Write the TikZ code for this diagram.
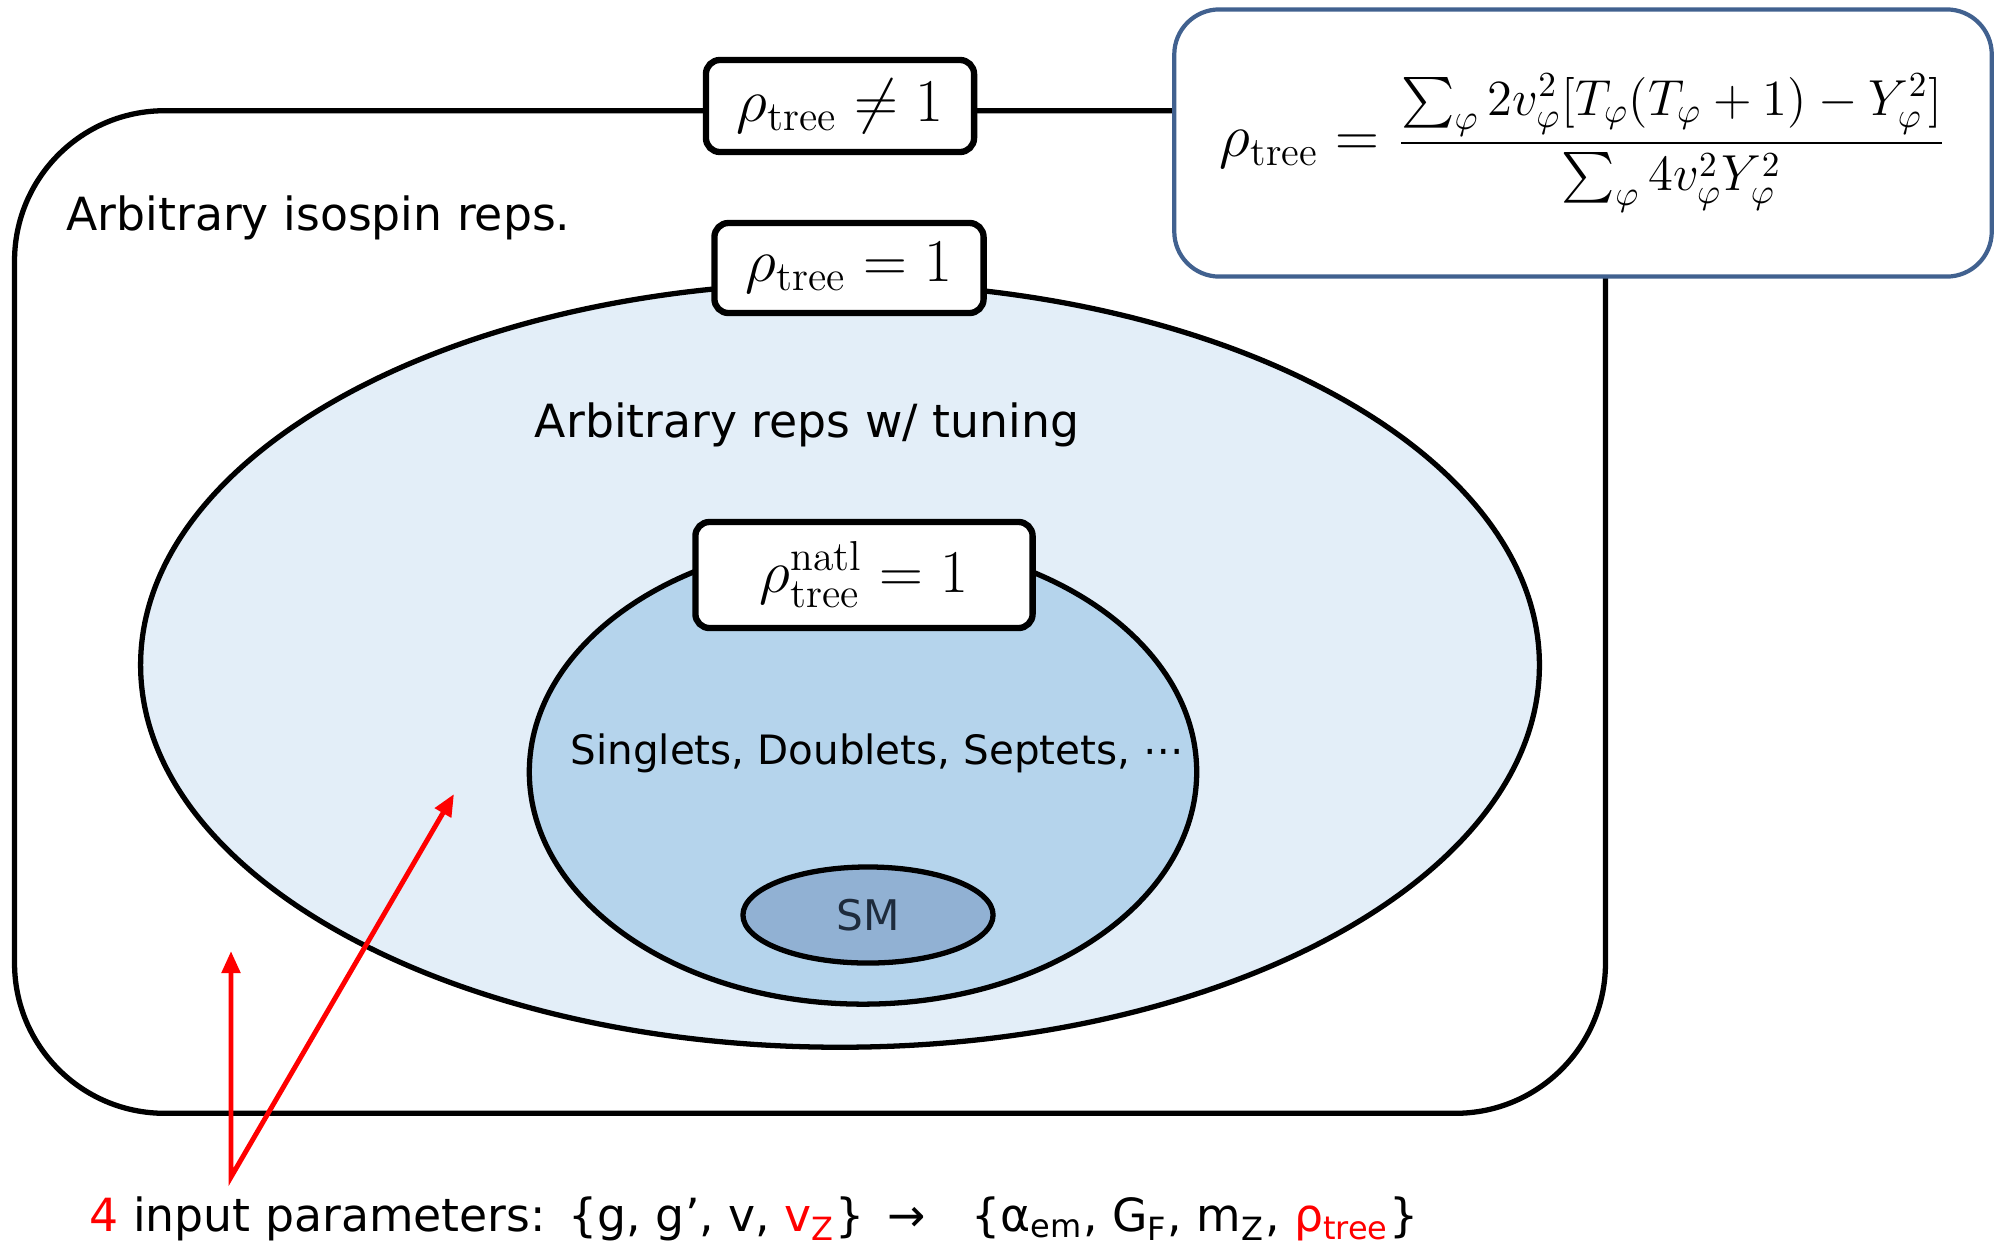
\documentclass[tikz,border=0pt]{standalone}
\usepackage{fontspec}
\usepackage{amsmath}
\newfontfamily\uifont{DejaVu Sans}
\usetikzlibrary{shapes,arrows.meta,positioning}
\definecolor{paleblue}{HTML}{E3EEF8}
\definecolor{midblue}{HTML}{B5D4EC}
\definecolor{deepblue}{HTML}{91B1D3}
\definecolor{frameblue}{HTML}{41618F}
\definecolor{smtext}{HTML}{1E2B3C}

\begin{document}
\begin{tikzpicture}
[x=0.01cm, y=-0.01cm, line width=1.5pt,
  myregion/.style={ellipse, draw=black, line width=1.5pt},
  mycond/.style={rectangle, rounded corners=4pt, draw=black, line width=1.8pt, fill=white, font=\fontsize{17}{20}\selectfont},
  mytext/.style={font=\uifont\fontsize{13}{16}\selectfont, text=black},
  myarrow/.style={draw=red, line width=1.4pt, line join=miter}
]
  \useasboundingbox (0,0) rectangle (2001,1248);

  \node[draw=black, rounded corners=1.5cm, minimum width=15.9cm, minimum height=10.02cm] (isospin) at (810,612) {};
  \node[myregion, fill=paleblue, minimum width=13.98cm, minimum height=7.64cm] (tuning) at (840,665) {};
  \node[myregion, fill=midblue, minimum width=6.67cm, minimum height=4.64cm] (natural) at (863,772) {};
  \node[myregion, fill=deepblue, minimum width=2.5cm, minimum height=0.96cm, font=\uifont\fontsize{12}{14}\selectfont, text=smtext] (sm) at (868,915) {SM};

  \node[mycond, minimum width=2.68cm, minimum height=0.92cm] (neq) at (840,106) {$\rho_{\mathrm{tree}} \neq 1$};
  \node[mycond, minimum width=2.69cm, minimum height=0.90cm] (eq) at (849,268) {$\rho_{\mathrm{tree}} = 1$};
  \node[mycond, minimum width=3.37cm, minimum height=1.06cm] (natl) at (864,575) {$\rho^{\mathrm{natl}}_{\mathrm{tree}} = 1$};

  \node[draw=frameblue, line width=1.2pt, rounded corners=0.45cm, fill=white, minimum width=8.17cm, minimum height=2.67cm, font=\fontsize{16.5}{19}\selectfont] (formula) at (1583,143)
    {$\rho_{\mathrm{tree}} =$ {\fontsize{14}{16}\selectfont$\displaystyle\frac{\sum_\varphi 2v_\varphi^2[T_\varphi(T_\varphi+1)-Y_\varphi^2]}{\sum_\varphi 4v_\varphi^2Y_\varphi^2}$}};

  \node[mytext, anchor=west, inner sep=0pt] (isolabel) at (64,218) {Arbitrary isospin reps.};
  \node[mytext] (tunelabel) at (807,425) {Arbitrary reps w/ tuning};
  \node[mytext, font=\uifont\fontsize{11.5}{14}\selectfont] (replabel) at (877,753) {Singlets, Doublets, Septets, ⋯};
  \node[mytext, anchor=west, inner sep=0pt] (inputs) at (87,1219)
    {{\color{red}4} input parameters:\enspace\{g, g’, v, {\color{red}v\textsubscript{Z}}\}\enspace→\quad\{α\textsubscript{em}, G\textsubscript{F}, m\textsubscript{Z}, {\color{red}ρ\textsubscript{tree}}\}};

  % red pointers from the input line
  \coordinate (apex) at (231,1177);
  \coordinate (tipA) at (231,951);
  \coordinate (tipB) at (454,794);
  \draw[myarrow, {Triangle[length=0.22cm, width=0.18cm]}-{Triangle[length=0.22cm, width=0.18cm]}] (tipA) -- (apex) -- (tipB);
\end{tikzpicture}
\end{document}
